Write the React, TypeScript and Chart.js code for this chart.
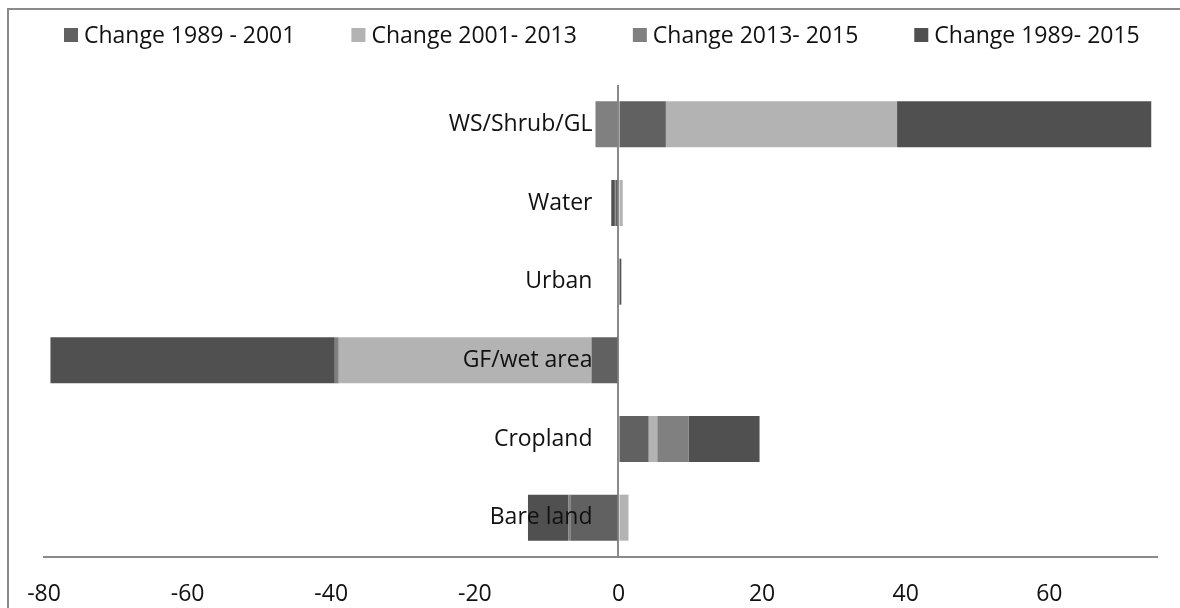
import React, { useEffect, useRef } from "react";
import { Chart, registerables } from "chart.js";

Chart.register(...registerables);

// ---- Data ----
const categories = ["WS/Shrub/GL", "Water", "Urban", "GF/wet area", "Cropland", "Bare land"];
const seriesNames = ["Change 1989 - 2001", "Change 2001- 2013", "Change 2013- 2015", "Change 1989- 2015"];
const change1989_2001 = [6.6, -0.4, 0.1, -3.75, 4.2, -6.7];
const change2001_2013 = [32.2, 0.6, 0.05, -35.2, 1.2, 1.4];
const change2013_2015 = [-3.2, -0.1, 0.05, -0.55, 4.4, -0.3];
const change1989_2015 = [35.4, -0.5, 0.2, -39.6, 9.85, -5.6];
const xTickValues = [-80, -60, -40, -20, 0, 20, 40, 60];
const xMin = -80;
const xMax = 75;

// ---- Styles ----
const seriesColors = ["#616161", "#b3b3b3", "#808080", "#505050"];
const axisColor = "#8a8a8a";
const textColor = "#111111";
const fontFamily = "'Open Sans', sans-serif";
const fontSize = 23;

const overlayPlugin = {
  id: "overlay",
  afterDatasetsDraw(chart: any) {
    const { ctx, scales } = chart;
    const x0 = scales.x.getPixelForValue(0);
    ctx.save();
    ctx.font = `${fontSize}px ${fontFamily}`;
    ctx.fillStyle = textColor;
    ctx.textAlign = "right";
    ctx.textBaseline = "middle";
    categories.forEach((c, i) => {
      const y = scales.y.getPixelForValue(i);
      ctx.fillText(c, x0 - 26, y);
    });
    ctx.restore();
  },
  afterDraw(chart: any) {
    const { ctx } = chart;
    ctx.save();
    ctx.font = `${fontSize}px ${fontFamily}`;
    ctx.textAlign = "left";
    ctx.textBaseline = "middle";
    const box = 14;
    const cy = 35;
    let x = 64;
    chart.data.datasets.forEach((ds: any) => {
      ctx.fillStyle = ds.backgroundColor;
      ctx.fillRect(x, cy - box / 2, box, box);
      ctx.fillStyle = textColor;
      ctx.fillText(ds.label, x + box + 6, cy + 1);
      x += box + 6 + ctx.measureText(ds.label).width + 56;
    });
    ctx.restore();
  },
};

export default function App() {
  const canvasRef = useRef<HTMLCanvasElement | null>(null);

  useEffect(() => {
    if (!canvasRef.current) return;
    const seriesData = [change1989_2001, change2001_2013, change2013_2015, change1989_2015];
    const chart = new Chart(canvasRef.current, {
      type: "bar",
      data: {
        labels: categories,
        datasets: seriesNames.map((name, i) => ({
          label: name,
          data: seriesData[i],
          backgroundColor: seriesColors[i],
          borderWidth: 0,
          barPercentage: 0.585,
          categoryPercentage: 1,
        })),
      },
      options: {
        indexAxis: "y",
        animation: false,
        responsive: false,
        maintainAspectRatio: false,
        devicePixelRatio: 1,
        layout: { padding: { left: 44, right: 23, top: 85, bottom: 0 } },
        plugins: {
          legend: { display: false },
          tooltip: { enabled: false },
        },
        scales: {
          x: {
            type: "linear",
            stacked: true,
            min: xMin,
            max: xMax,
            z: 1,
            afterBuildTicks: (scale: any) => {
              scale.ticks = xTickValues.map((v) => ({ value: v }));
            },
            afterFit: (scale: any) => {
              scale.height = 51;
            },
            ticks: {
              color: textColor,
              font: { family: fontFamily, size: fontSize },
              padding: 24,
              maxRotation: 0,
              autoSkip: false,
            },
            grid: {
              drawTicks: false,
              lineWidth: 2,
              color: (c: any) => (c.tick && c.tick.value === 0 ? axisColor : "rgba(0,0,0,0)"),
            },
            border: { display: true, color: axisColor, width: 2 },
          },
          y: {
            type: "category",
            stacked: true,
            display: false,
          },
        },
      },
      plugins: [overlayPlugin],
    });
    return () => chart.destroy();
  }, []);

  return (
    <div
      style={{
        position: "fixed",
        left: 0,
        top: 0,
        width: 1180,
        height: 608,
        overflow: "hidden",
        background: "#ffffff",
      }}
    >
      <div
        style={{
          position: "absolute",
          left: 7,
          top: 8,
          width: 1300,
          height: 800,
          borderLeft: `2px solid ${axisColor}`,
          borderTop: `2px solid ${axisColor}`,
        }}
      />
      <canvas
        ref={canvasRef}
        width={1180}
        height={608}
        style={{ position: "absolute", left: 0, top: 0, width: 1180, height: 608 }}
      />
    </div>
  );
}
